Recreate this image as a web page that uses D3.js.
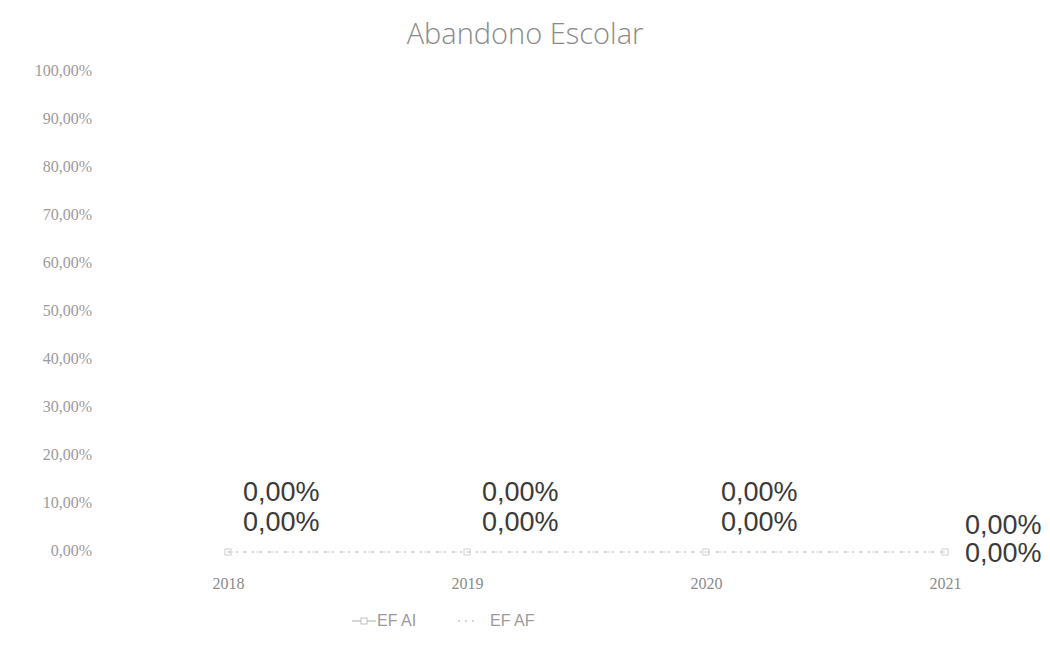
<!DOCTYPE html>
<html>
<head>
<meta charset="utf-8">
<script src="https://cdn.jsdelivr.net/npm/d3@7"></script>
<style>
  body { margin: 0; background: #fff; }
  svg { font-family: "Liberation Sans", Arial, sans-serif; }
</style>
</head>
<body>
<div id="chart"></div>
<script>
// chart data
var years = ['2018', '2019', '2020', '2021'];
var efAI = [0, 0, 0, 0];
var efAF = [0, 0, 0, 0];
var yTicks = [0, 0.1, 0.2, 0.3, 0.4, 0.5, 0.6, 0.7, 0.8, 0.9, 1];

var width = 1050, height = 645;

var svg = d3.select('#chart').append('svg')
  .attr('width', width).attr('height', height);

// percent format with comma decimal, like the original
var pct = function (v) { return (v * 100).toFixed(2).replace('.', ',') + '%'; };

// scales
var x = d3.scalePoint().domain(years).range([228, 945]);
var y = d3.scaleLinear().domain([0, 1]).range([550, 70]);

// title
svg.append('text').attr('x', 525).attr('y', 44)
  .attr('text-anchor', 'middle')
  .attr('font-size', 29).attr('fill', '#8a8a8a')
  .attr('font-family', '"Open Sans", sans-serif').attr('font-weight', 300)
  .text('Abandono Escolar');

// y axis (labels only, no line)
var yAxis = d3.axisLeft(y).tickValues(yTicks).tickFormat(pct).tickSize(0).tickPadding(0);
var yg = svg.append('g').attr('transform', 'translate(92,0)').call(yAxis);
yg.select('.domain').remove();
yg.selectAll('text').attr('font-size', 16).attr('fill', '#9a9a9a')
  .attr('font-family', '"Liberation Serif", serif');

// x axis labels
var xAxis = d3.axisBottom(x).tickSize(0).tickPadding(0);
var xg = svg.append('g').attr('transform', 'translate(0,578)').call(xAxis);
xg.select('.domain').remove();
xg.selectAll('text').attr('font-size', 16).attr('fill', '#8a8a8a')
  .attr('font-family', '"Liberation Serif", serif');

// lines
var line = function (vals) {
  return d3.line().x(function (d, i) { return x(years[i]); }).y(function (d) { return y(d) + 2; })(vals);
};
svg.append('path').attr('d', line(efAF)).attr('fill', 'none')
  .attr('stroke', '#c8c8c8').attr('stroke-width', 1.5).attr('stroke-dasharray', '2,6');
svg.append('path').attr('d', line(efAI)).attr('fill', 'none')
  .attr('stroke', '#d6d6d6').attr('stroke-width', 1.2).attr('stroke-dasharray', '5,9');

// markers for EF AI
svg.selectAll('.mk').data(efAI).enter().append('rect').attr('class', 'mk')
  .attr('x', function (d, i) { return x(years[i]) - 3; })
  .attr('y', function (d) { return y(d) - 1; })
  .attr('width', 6).attr('height', 6)
  .attr('fill', 'none').attr('stroke', '#d0d0d0').attr('stroke-width', 1);

// data labels
function labelX(i) { return i === years.length - 1 ? x(years[i]) + 20 : x(years[i]) + 15; }
svg.selectAll('.lblAI').data(efAI).enter().append('text')
  .attr('x', function (d, i) { return labelX(i); })
  .attr('y', function (d, i) { return i === years.length - 1 ? y(d) - 16 : y(d) - 49; })
  .attr('font-size', 27).attr('fill', '#3a3a3a')
  .text(function (d) { return pct(d); });
svg.selectAll('.lblAF').data(efAF).enter().append('text')
  .attr('x', function (d, i) { return labelX(i); })
  .attr('y', function (d, i) { return i === years.length - 1 ? y(d) + 12 : y(d) - 19; })
  .attr('font-size', 27).attr('fill', '#3a3a3a')
  .text(function (d) { return pct(d); });

// legend
var lg = svg.append('g').attr('transform', 'translate(0,626)');
lg.append('line').attr('x1', 352).attr('x2', 376).attr('y1', -5).attr('y2', -5)
  .attr('stroke', '#c8c8c8').attr('stroke-width', 1.5);
lg.append('rect').attr('x', 361).attr('y', -8).attr('width', 6).attr('height', 6)
  .attr('fill', '#fff').attr('stroke', '#c0c0c0');
lg.append('text').attr('x', 377).attr('y', 0).attr('font-size', 16).attr('fill', '#9a9a9a').text('EF AI');
lg.append('line').attr('x1', 458).attr('x2', 478).attr('y1', -5).attr('y2', -5)
  .attr('stroke', '#c8c8c8').attr('stroke-width', 1.5).attr('stroke-dasharray', '2,5');
lg.append('text').attr('x', 490).attr('y', 0).attr('font-size', 16).attr('fill', '#9a9a9a').text('EF AF');
</script>
</body>
</html>
